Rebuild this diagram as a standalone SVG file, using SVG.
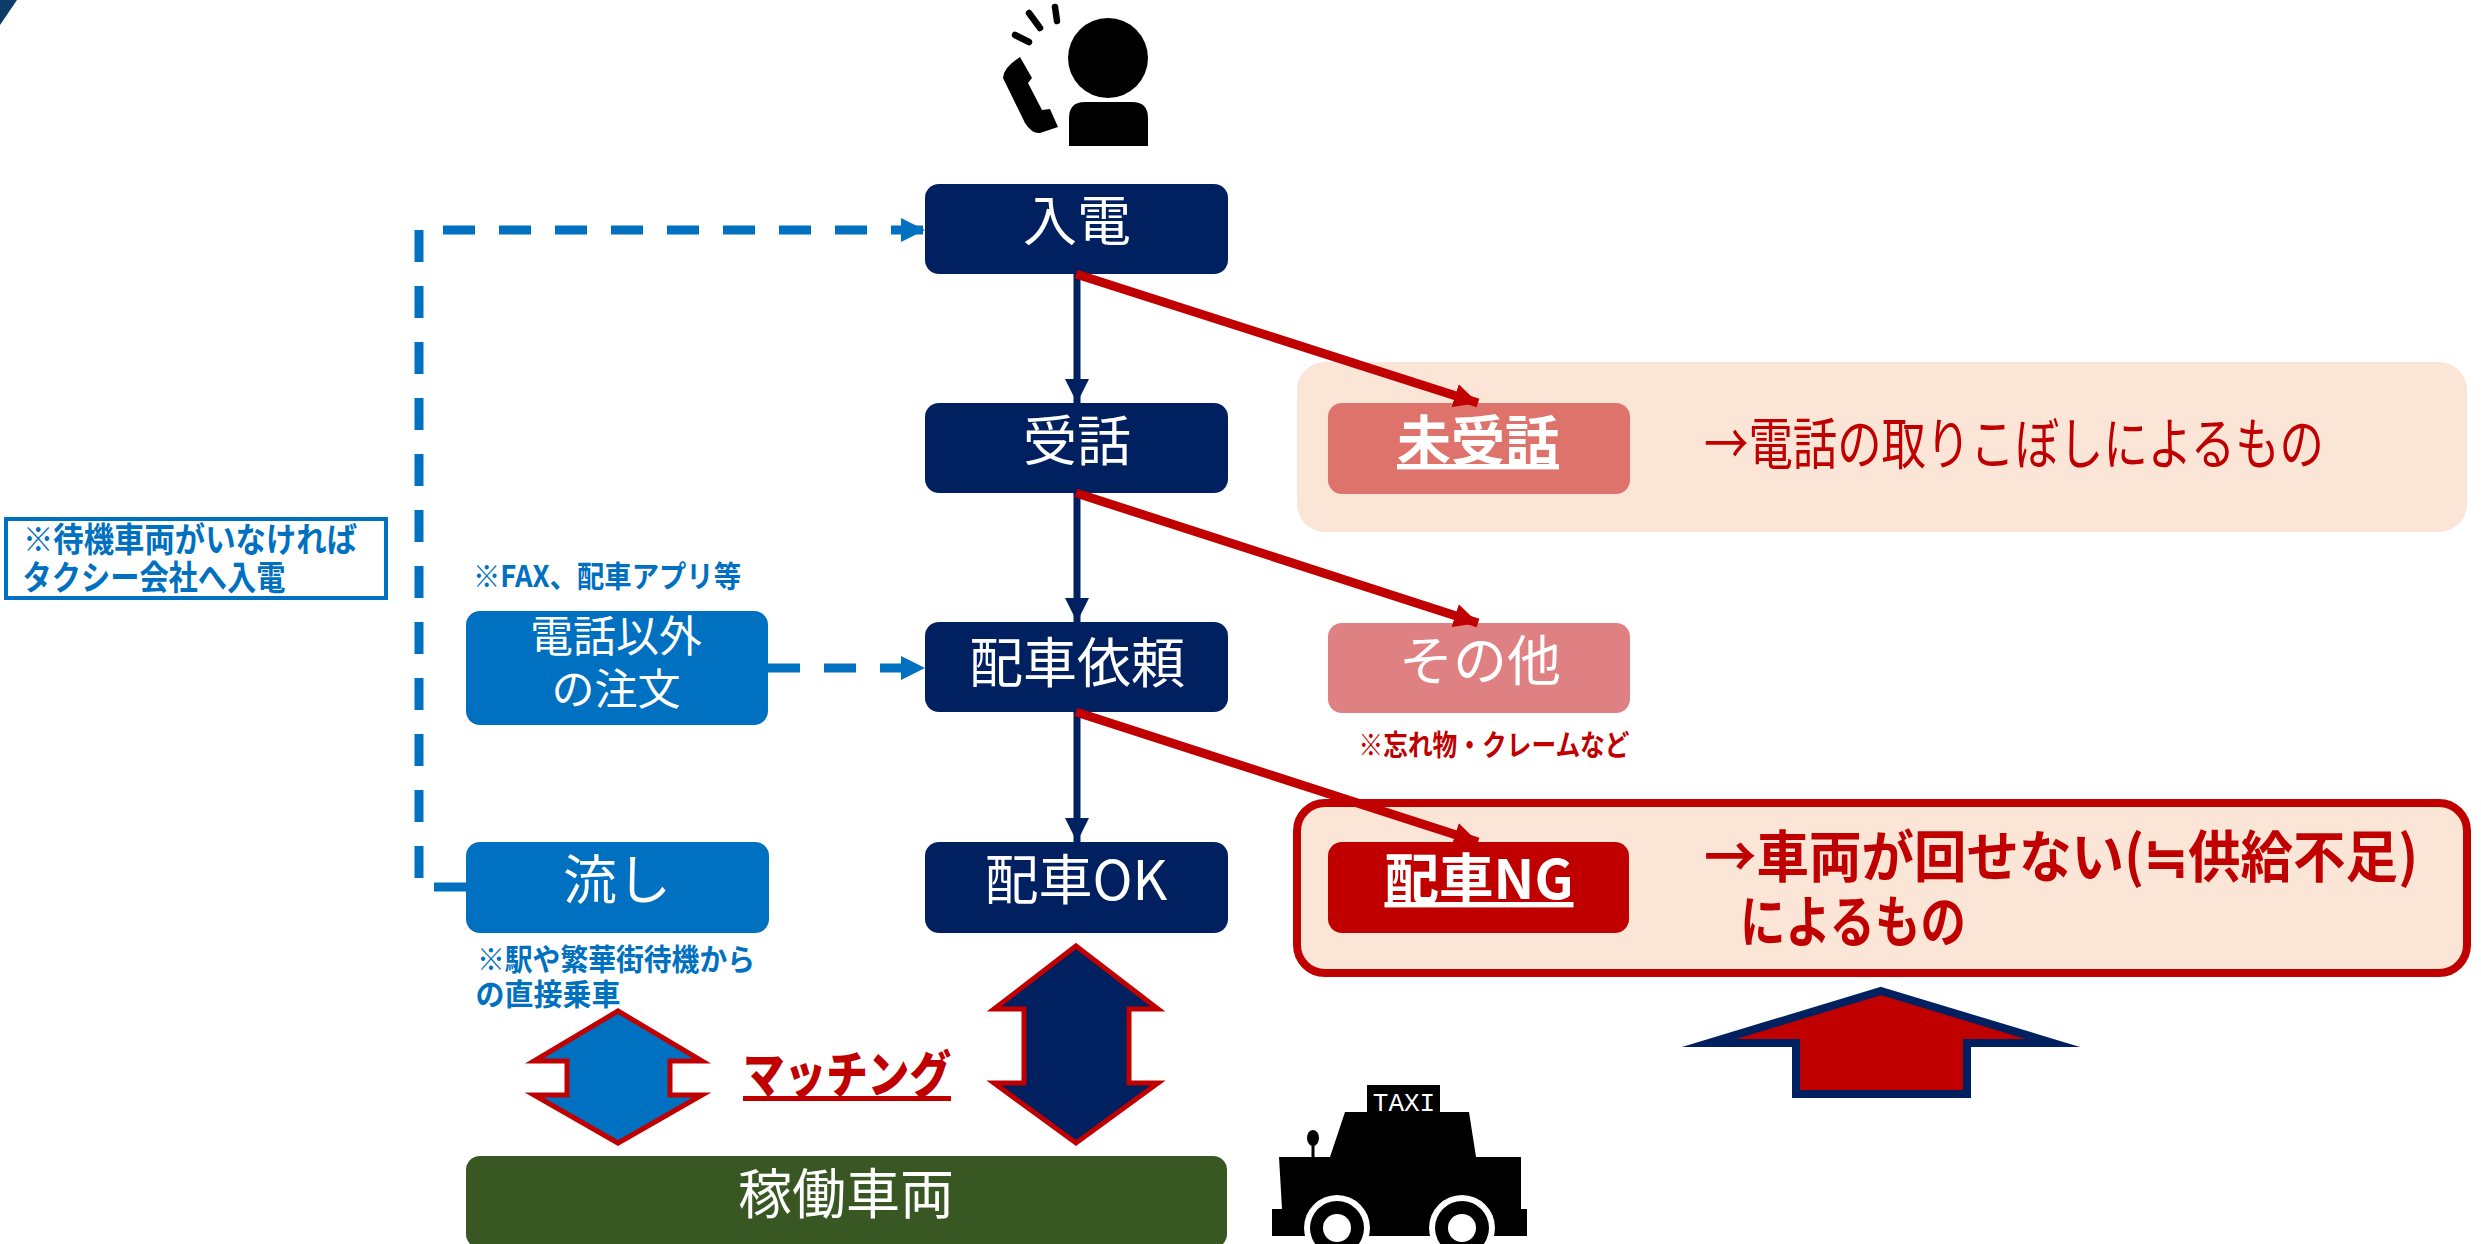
<svg xmlns="http://www.w3.org/2000/svg" width="2481" height="1244" viewBox="0 0 2481 1244">
<style>
text{font-family:"Noto Sans CJK JP","Noto Sans",sans-serif;text-anchor:middle}
.w{fill:#fff;font-size:54px}
.b{font-weight:700}
.u{text-decoration:underline}
.r{fill:#C00000}
.bl{fill:#0070C0}
.n{fill:#002060}
.nav{stroke:#002060;stroke-width:7;fill:none}
.red{stroke:#C00000;stroke-width:9;fill:none}
.dash{stroke:#0070C0;stroke-width:9;fill:none;stroke-dasharray:32 24}
</style>
<defs>
<marker id="an" markerUnits="userSpaceOnUse" markerWidth="24" markerHeight="24" refX="24" refY="12" orient="auto"><path d="M0 0L24 12L0 24z" fill="#002060"/></marker>
<marker id="ar" markerUnits="userSpaceOnUse" markerWidth="24" markerHeight="24" refX="24" refY="12" orient="auto"><path d="M0 0L24 12L0 24z" fill="#C00000"/></marker>
<marker id="ab" markerUnits="userSpaceOnUse" markerWidth="24" markerHeight="24" refX="24" refY="12" orient="auto"><path d="M0 0L24 12L0 24z" fill="#0070C0"/></marker>
</defs>
<polygon id="corner" points="0,0 17,0 0,25" fill="#0C3C68"/>
<g id="caller">
<circle cx="1108" cy="58" r="40"/>
<path d="M1069 146V118Q1069 102 1085 102H1132Q1148 102 1148 118V146z"/>
<path d="M1020 57Q1003 68 1003 78L1025 123Q1032 134 1040 133L1058 127L1050 109L1042 110L1028 83L1032 78z"/>
<path d="M1015 35L1029 42M1029 13L1040 28M1055 7L1057 21" stroke="#000" stroke-width="6.500" stroke-linecap="round" fill="none"/>
</g>
<g id="n-nyuden"><rect x="925" y="184" width="303" height="90" rx="14" class="n"/><text x="1077" y="241" class="w">入電</text></g>
<g id="n-juwa"><rect x="925" y="403" width="303" height="90" rx="14" class="n"/><text x="1077" y="461" class="w">受話</text></g>
<g id="n-irai"><rect x="925" y="622" width="303" height="90" rx="14" class="n"/><text x="1077" y="683" class="w">配車依頼</text></g>
<g id="n-ok"><rect x="925" y="842" width="303" height="91" rx="14" class="n"/><text x="1076" y="900" class="w" textLength="183" lengthAdjust="spacingAndGlyphs">配車OK</text></g>
<g id="n-other"><rect x="466" y="611" width="302" height="114" rx="14" class="bl"/><text x="616" y="652" class="w" style="font-size:43px">電話以外</text><text x="616" y="705" class="w" style="font-size:43px">の注文</text></g>
<g id="n-nagashi"><rect x="466" y="842" width="303" height="91" rx="14" class="bl"/><text x="617" y="900" class="w">流し</text></g>
<g id="n-sharyo"><rect x="466" y="1156" width="761" height="92" rx="14" fill="#385723"/><text x="846" y="1214" class="w">稼働車両</text></g>
<g id="b-miju"><rect x="1297" y="362" width="1170" height="170" rx="28" fill="#FBE5D6"/></g>
<g id="n-miju"><rect x="1328" y="403" width="302" height="91" rx="14" fill="#DE736B"/><text x="1478" y="461" class="w b u">未受話</text></g>
<text id="t-miju" x="2014" y="464" class="r" style="font-size:56px" textLength="620" lengthAdjust="spacingAndGlyphs">→電話の取りこぼしによるもの</text>
<g id="n-sonota"><rect x="1328" y="623" width="302" height="90" rx="14" fill="#DF8082"/><text x="1480" y="681" class="w">その他</text></g>
<text id="t-sonota" x="1494" y="756" class="r b" style="font-size:29px" textLength="271" lengthAdjust="spacingAndGlyphs">※忘れ物・クレームなど</text>
<g id="b-ng"><rect x="1297" y="803" width="1170" height="170" rx="28" fill="#FBE5D6" stroke="#C00000" stroke-width="8"/></g>
<g id="n-ng"><rect x="1328" y="842" width="301" height="91" rx="14" fill="#C00000"/><text x="1479" y="899" class="w b u" textLength="189" lengthAdjust="spacingAndGlyphs">配車NG</text></g>
<text id="t-ng1" x="2061" y="877" class="r b" style="font-size:56px" textLength="714" lengthAdjust="spacingAndGlyphs">→車両が回せない(≒供給不足)</text>
<text id="t-ng2" x="1853" y="942" class="r b" style="font-size:56px" textLength="226" lengthAdjust="spacingAndGlyphs">によるもの</text>
<g id="note-wait"><rect x="6" y="519" width="380" height="79" fill="#fff" stroke="#0070C0" stroke-width="4"/><text x="190" y="552" class="bl b" style="font-size:34px" textLength="334" lengthAdjust="spacingAndGlyphs">※待機車両がいなければ</text><text x="154" y="590" class="bl b" style="font-size:34px" textLength="263" lengthAdjust="spacingAndGlyphs">タクシー会社へ入電</text></g>
<text id="t-fax" x="607" y="587" class="bl b" style="font-size:30px" textLength="268" lengthAdjust="spacingAndGlyphs">※FAX、配車アプリ等</text>
<text id="t-eki1" x="616" y="970" class="bl b" style="font-size:30px" textLength="278" lengthAdjust="spacingAndGlyphs">※駅や繁華街待機から</text>
<text id="t-eki2" x="548" y="1005" class="bl b" style="font-size:30px" textLength="145" lengthAdjust="spacingAndGlyphs">の直接乗車</text>
<g id="matching-arrows" stroke="#C00000" stroke-width="5" stroke-miterlimit="10">
<polygon fill="#0070C0" points="618,1011 702,1061 670,1061 670,1095 702,1095 618,1143 534,1095 567,1095 567,1061 534,1061"/>
<polygon fill="#002060" points="1076,946 1158,1009 1129,1009 1129,1083 1158,1083 1076,1143 994,1083 1024,1083 1024,1009 994,1009"/>
</g>
<text id="t-match" x="847" y="1093" class="r u" style="font-size:50px;font-weight:900" textLength="208" lengthAdjust="spacingAndGlyphs">マッチング</text>
<polygon id="up-arrow" fill="#C00000" stroke="#002060" stroke-width="8" stroke-miterlimit="20" points="1881,991 2053,1043 1967,1043 1967,1094 1796,1094 1796,1043 1709,1043"/>
<g id="taxi">
<rect x="1367" y="1085" width="73" height="28"/>
<text x="1404" y="1111" style="font-family:'Liberation Mono',monospace;font-size:26px;fill:#fff">TAXI</text>
<polygon points="1345,1112 1469,1112 1476,1157 1330,1157"/>
<ellipse cx="1313" cy="1138" rx="6" ry="8"/>
<rect x="1311.500" y="1145" width="3" height="13"/>
<polygon points="1279,1157 1521,1157 1521,1209 1527,1209 1527,1236 1272,1236 1272,1209 1282,1209"/>
<circle cx="1337" cy="1228" r="33" fill="#fff"/><circle cx="1337" cy="1228" r="27"/><circle cx="1337" cy="1228" r="14" fill="#fff"/>
<circle cx="1462" cy="1228" r="33" fill="#fff"/><circle cx="1462" cy="1228" r="27"/><circle cx="1462" cy="1228" r="14" fill="#fff"/>
</g>
<g id="connectors">
<path class="nav" d="M1077 274V403" marker-end="url(#an)"/>
<path class="nav" d="M1077 493V622" marker-end="url(#an)"/>
<path class="nav" d="M1077 712V842" marker-end="url(#an)"/>
<path class="red" d="M1076 274L1478 403" marker-end="url(#ar)"/>
<path class="red" d="M1076 493L1478 623" marker-end="url(#ar)"/>
<path class="red" d="M1076 712L1478 842" marker-end="url(#ar)"/>
<path class="dash" d="M466 887H419V230H925" marker-end="url(#ab)"/>
<path class="dash" d="M768 668H925" marker-end="url(#ab)"/>
</g>
</svg>
